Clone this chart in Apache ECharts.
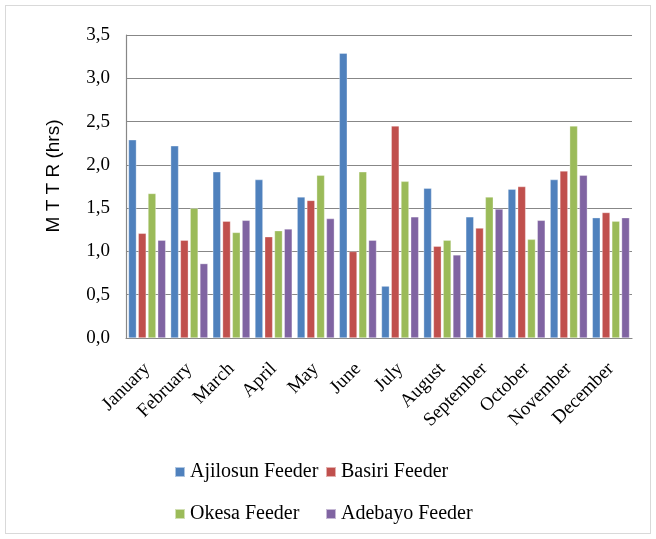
<!DOCTYPE html>
<html>
<head>
<meta charset="utf-8">
<script src="https://cdn.jsdelivr.net/npm/echarts@6/dist/echarts.min.js"></script>
<style>
  html, body { margin: 0; padding: 0; background: #fff; }
  #frame { position: absolute; left: 5px; top: 5px; width: 646px; height: 529px; border: 1px solid #d9d9d9; box-sizing: border-box; }
  #chart { position: absolute; left: 0; top: 0; width: 656px; height: 539px; }
</style>
</head>
<body>
<div id="frame"></div>
<div id="chart"></div>
<script>
// Monthly mean time to repair per feeder (hours)
const months = ['January', 'February', 'March', 'April', 'May', 'June', 'July', 'August', 'September', 'October', 'November', 'December'];
const ajilosun = [2.29, 2.22, 1.92, 1.83, 1.63, 3.29, 0.60, 1.73, 1.40, 1.72, 1.83, 1.39];
const basiri   = [1.21, 1.13, 1.35, 1.17, 1.59, 1.00, 2.45, 1.06, 1.27, 1.75, 1.93, 1.45];
const okesa    = [1.67, 1.50, 1.22, 1.24, 1.88, 1.92, 1.81, 1.13, 1.63, 1.14, 2.45, 1.35];
const adebayo  = [1.13, 0.86, 1.36, 1.26, 1.38, 1.13, 1.40, 0.96, 1.49, 1.36, 1.88, 1.39];
const yTicks = [0, 0.5, 1, 1.5, 2, 2.5, 3, 3.5];

const serif = '"Liberation Serif", "Times New Roman", serif';
const sans = '"Liberation Sans", Arial, sans-serif';

const chart = echarts.init(document.getElementById('chart'));

function bar(name, data, color) {
  return {
    name: name,
    type: 'bar',
    data: data,
    barWidth: 8,
    barGap: '22%',
    itemStyle: { color: color, borderColor: 'rgba(255,255,255,0.55)', borderWidth: 0.6 }
  };
}

const legendText = { fontFamily: serif, fontSize: 20, color: '#000' };

// Two legend columns
function legendColumn(left, names) {
  return {
    left: left,
    top: 457,
    orient: 'vertical',
    itemWidth: 10,
    itemHeight: 10,
    itemGap: 22,
    icon: 'rect',
    data: names.map(n => ({ name: n, textStyle: legendText })),
    textStyle: legendText
  };
}

chart.setOption({
  animation: false,
  textStyle: { fontFamily: serif },
  grid: { left: 126, top: 35, width: 506, height: 303 },
  legend: [
    legendColumn(169, ['Ajilosun Feeder', 'Okesa Feeder']),
    legendColumn(320, ['Basiri Feeder', 'Adebayo Feeder'])
  ],
  graphic: [{
    type: 'text',
    rotation: Math.PI / 2,
    x: 54, y: 176,
    style: {
      text: 'M T T R (hrs)',
      font: '19px ' + sans,
      fill: '#000',
      align: 'center',
      verticalAlign: 'middle'
    }
  }],
  xAxis: {
    type: 'category',
    data: months,
    axisLine: { show: true, lineStyle: { color: '#878787', width: 1.2 } },
    axisTick: { show: false },
    axisLabel: {
      interval: 0,
      rotate: 45,
      margin: 28,
      fontFamily: serif,
      fontSize: 19,
      color: '#000'
    }
  },
  yAxis: {
    type: 'value',
    min: yTicks[0],
    max: yTicks[yTicks.length - 1],
    interval: 0.5,
    axisLine: { show: true, lineStyle: { color: '#878787', width: 1.2 } },
    axisTick: { show: false },
    splitLine: { lineStyle: { color: '#878787', width: 1.2 } },
    axisLabel: {
      margin: 16,
      fontFamily: serif,
      fontSize: 19,
      color: '#000',
      formatter: v => v.toFixed(1).replace('.', ',')
    }
  },
  series: [
    bar('Ajilosun Feeder', ajilosun, '#4F81BD'),
    bar('Basiri Feeder', basiri, '#C0504D'),
    bar('Okesa Feeder', okesa, '#9BBB59'),
    bar('Adebayo Feeder', adebayo, '#8064A2')
  ]
});
</script>
</body>
</html>
